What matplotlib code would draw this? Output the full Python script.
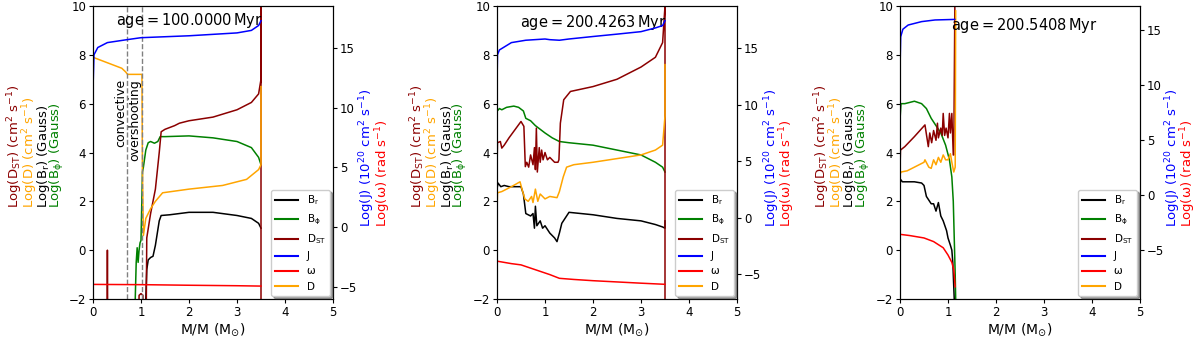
import numpy as np
import matplotlib
matplotlib.use("Agg")
import matplotlib.pyplot as plt

# ---- panel 1 : age = 100.0000 Myr ----
p1_dst_x = [0.0, 0.29, 0.30, 0.31, 0.94, 0.96, 1.0, 1.04, 1.06, 1.10, 1.12, 1.2, 1.3, 1.38, 1.42, 1.5, 1.7, 1.8, 2.0, 2.5, 3.0, 3.3, 3.45, 3.5, 3.5, 3.5]
p1_dst_y = [-5, -5, 0.0, -5, -5, -1.85, -1.78, -1.85, -5, -5, 0.5, 1.5, 2.5, 4.0, 4.85, 4.95, 5.1, 5.2, 5.3, 5.45, 5.75, 6.05, 6.4, 7.0, 12, -3]
p1_d_x = [0.0, 0.2, 0.4, 0.6, 0.68, 0.72, 1.02, 1.03, 1.05, 1.1, 1.2, 1.3, 1.45, 2.0, 2.7, 3.2, 3.45, 3.5, 3.5]
p1_d_y = [7.9, 7.75, 7.6, 7.45, 7.3, 7.2, 7.2, 3.2, 0.6, 1.3, 1.7, 2.0, 2.35, 2.5, 2.65, 2.9, 3.3, 3.5, 6.7]
p1_bphi_x = [0.0, 0.88, 0.9, 0.92, 0.94, 0.96, 0.98, 1.0, 1.03, 1.05, 1.1, 1.15, 1.2, 1.28, 1.35, 1.4, 1.5, 2.0, 2.5, 3.0, 3.3, 3.45, 3.5]
p1_bphi_y = [-5, -2.0, -0.5, 0.1, -0.5, 0.0, 0.3, 0.4, 3.2, 3.4, 4.1, 4.4, 4.45, 4.38, 4.45, 4.65, 4.65, 4.68, 4.6, 4.45, 4.2, 3.8, 3.5]
p1_br_x = [0.0, 1.08, 1.1, 1.12, 1.15, 1.2, 1.25, 1.3, 1.38, 1.42, 1.6, 2.0, 2.5, 3.0, 3.3, 3.45, 3.5]
p1_br_y = [-5, -5, -2.0, -0.8, -0.4, -0.3, -0.25, 0.2, 1.2, 1.42, 1.45, 1.55, 1.55, 1.42, 1.3, 1.1, 0.9]
p1_j_x = [0.0, 0.02, 0.1, 0.3, 0.7, 1.0, 2.0, 3.0, 3.3, 3.45, 3.5]
p1_j_y = [11.56, 14.42, 15.03, 15.44, 15.68, 15.85, 16.01, 16.25, 16.46, 16.87, 17.27]
p1_w_x = [0.0, 1.0, 2.0, 3.0, 3.5]
p1_w_y = [-4.78, -4.80, -4.85, -4.89, -4.92]

# ---- panel 2 : age = 200.4263 Myr ----
p2_dst_x = [0.0, 0.01, 0.07, 0.1, 0.15, 0.25, 0.5, 0.56, 0.59, 0.62, 0.66, 0.7, 0.75, 0.78, 0.8, 0.82, 0.84, 0.88, 0.9, 0.93, 0.96, 1.0, 1.05, 1.1, 1.2, 1.27, 1.29, 1.32, 1.39, 1.53, 2.0, 2.5, 3.0, 3.3, 3.45, 3.5, 3.5, 3.5]
p2_dst_y = [3.3, 4.4, 4.45, 4.18, 4.3, 4.6, 5.27, 5.07, 3.42, 3.6, 3.4, 3.9, 3.5, 4.2, 3.3, 5.0, 3.2, 4.2, 3.6, 4.1, 3.7, 4.0, 3.7, 3.8, 3.6, 3.6, 3.7, 5.2, 6.16, 6.5, 6.7, 7.0, 7.5, 7.9, 8.5, 10.0, 12, -3]
p2_d_x = [0.0, 0.01, 0.1, 0.3, 0.48, 0.52, 0.58, 0.65, 0.72, 0.75, 0.8, 0.85, 0.9, 1.0, 1.1, 1.25, 1.3, 1.38, 1.45, 1.6, 2.0, 2.5, 3.0, 3.3, 3.45, 3.5, 3.5]
p2_d_y = [1.5, 2.35, 2.4, 2.6, 2.8, 2.5, 2.1, 2.0, 2.2, 1.95, 2.5, 2.0, 2.3, 2.1, 2.2, 2.15, 2.4, 3.0, 3.4, 3.5, 3.6, 3.75, 3.9, 4.1, 4.3, 5.5, 7.6]
p2_bphi_x = [0.0, 0.005, 0.05, 0.1, 0.2, 0.35, 0.45, 0.55, 0.6, 0.7, 0.8, 0.9, 1.0, 1.15, 1.3, 1.5, 2.0, 2.5, 3.0, 3.3, 3.45, 3.5]
p2_bphi_y = [-2.5, 5.7, 5.8, 5.75, 5.85, 5.9, 5.85, 5.7, 5.4, 5.3, 5.1, 4.95, 4.8, 4.6, 4.45, 4.4, 4.3, 4.1, 3.9, 3.6, 3.4, 3.2]
p2_br_x = [0.0, 0.02, 0.08, 0.15, 0.25, 0.5, 0.55, 0.6, 0.7, 0.75, 0.78, 0.8, 0.83, 0.9, 0.95, 1.0, 1.1, 1.2, 1.25, 1.3, 1.35, 1.45, 1.5, 2.0, 2.5, 3.0, 3.3, 3.45, 3.5, 3.5]
p2_br_y = [2.5, 2.75, 2.6, 2.65, 2.6, 2.6, 2.3, 1.5, 1.4, 1.5, 0.9, 1.8, 1.0, 1.2, 0.9, 1.0, 0.7, 0.5, 0.35, 0.7, 1.1, 1.4, 1.55, 1.45, 1.3, 1.2, 1.05, 0.95, 0.9, 1.2]
p2_j_x = [0.0, 0.01, 0.05, 0.3, 0.6, 1.0, 1.1, 1.3, 1.5, 2.0, 2.5, 3.0, 3.3, 3.45, 3.5]
p2_j_y = [11.63, 14.44, 14.87, 15.52, 15.73, 15.84, 15.78, 15.73, 15.84, 16.06, 16.27, 16.49, 16.82, 17.03, 17.46]
p2_w_x = [0.0, 0.3, 0.5, 0.8, 1.1, 1.3, 1.6, 2.0, 2.5, 3.0, 3.5]
p2_w_y = [-3.82, -4.04, -4.15, -4.58, -5.01, -5.34, -5.44, -5.55, -5.66, -5.77, -5.87]

# ---- panel 3 : age = 200.5408 Myr ----
p3_dst_x = [0.0, 0.01, 0.1, 0.3, 0.52, 0.59, 0.62, 0.66, 0.7, 0.75, 0.78, 0.8, 0.85, 0.88, 0.9, 0.93, 0.96, 1.0, 1.03, 1.05, 1.08, 1.11, 1.12, 1.15]
p3_dst_y = [3.3, 4.1, 4.24, 4.65, 5.13, 4.24, 4.8, 4.4, 4.9, 4.5, 5.2, 4.6, 5.0, 4.7, 5.6, 4.7, 5.0, 4.6, 5.6, 4.8, 5.6, 3.9, 3.9, 12]
p3_d_x = [0.0, 0.02, 0.15, 0.35, 0.5, 0.52, 0.6, 0.65, 0.7, 0.75, 0.8, 0.85, 0.9, 0.95, 1.0, 1.05, 1.08, 1.12, 1.15, 1.16]
p3_d_y = [3.1, 3.2, 3.25, 3.45, 3.6, 3.7, 3.4, 3.35, 3.7, 3.5, 3.8, 3.6, 3.9, 3.7, 3.7, 3.95, 3.6, 3.2, 3.4, 9.8]
p3_bphi_x = [0.0, 0.005, 0.02, 0.1, 0.3, 0.45, 0.55, 0.65, 0.75, 0.85, 0.95, 1.03, 1.08, 1.11, 1.13, 1.15, 1.16]
p3_bphi_y = [-2.5, 5.5, 6.0, 6.0, 6.1, 6.0, 5.8, 5.4, 5.1, 4.8, 4.3, 3.7, 3.0, 2.0, 0.5, -1.0, -2.0]
p3_br_x = [0.0, 0.01, 0.05, 0.3, 0.45, 0.5, 0.55, 0.65, 0.7, 0.75, 0.8, 0.85, 0.9, 0.97, 1.0, 1.05, 1.08, 1.1, 1.12, 1.13]
p3_br_y = [2.5, 2.9, 2.8, 2.8, 2.75, 2.65, 2.2, 1.9, 1.9, 1.6, 1.95, 1.4, 1.2, 0.8, 0.5, 0.2, 0.0, -0.5, -1.5, -2.0]
p3_j_x = [0.0, 0.014, 0.06, 0.17, 0.45, 0.73, 1.14]
p3_j_y = [11.36, 14.38, 15.07, 15.45, 15.76, 15.91, 15.96]
p3_w_x = [0.0, 0.2, 0.5, 0.7, 0.9, 1.0, 1.08, 1.12, 1.15]
p3_w_y = [-3.58, -3.69, -3.91, -4.24, -4.80, -5.46, -6.13, -6.80, -8.35]

ages = ["100.0000", "200.4263", "200.5408"]
age_pos = [(0.40, 0.95), (0.40, 0.945), (0.52, 0.935)]
right_lims = [(-6.0, 18.5), (-7.17, 18.76), (-9.46, 17.18)]
lefts = [93, 497, 900]
left_label_x = [[15, 30, 43, 57], [418, 433, 447, 460], [822, 837, 850, 863]]
right_label_x = [[367, 383], [772, 787], [1173, 1188]]

panels = [
    (p1_br_x, p1_br_y, p1_bphi_x, p1_bphi_y, p1_dst_x, p1_dst_y, p1_j_x, p1_j_y, p1_w_x, p1_w_y, p1_d_x, p1_d_y),
    (p2_br_x, p2_br_y, p2_bphi_x, p2_bphi_y, p2_dst_x, p2_dst_y, p2_j_x, p2_j_y, p2_w_x, p2_w_y, p2_d_x, p2_d_y),
    (p3_br_x, p3_br_y, p3_bphi_x, p3_bphi_y, p3_dst_x, p3_dst_y, p3_j_x, p3_j_y, p3_w_x, p3_w_y, p3_d_x, p3_d_y),
]

W, H = 1200, 339
fig = plt.figure(figsize=(12, 3.39), dpi=100)

for i, d in enumerate(panels):
    brx, bry, bpx, bpy, dsx, dsy, jx, jy, wx, wy, dx, dy = d
    ax = fig.add_axes([lefts[i] / W, 1 - 299 / H, 240 / W, 293 / H])
    ax2 = ax.twinx()
    ax.plot(brx, bry, color="black", lw=1.1)
    ax.plot(bpx, bpy, color="green", lw=1.1)
    ax.plot(dsx, dsy, color="darkred", lw=1.1)
    ax.plot(dx, dy, color="orange", lw=1.1)
    ax2.plot(jx, jy, color="blue", lw=1.1)
    ax2.plot(wx, wy, color="red", lw=1.1)
    ax.set_xlim(0, 5)
    ax.set_ylim(-2, 10)
    ax2.set_ylim(*right_lims[i])
    ax.set_xlabel(r"M/M (M$_{\odot}$)", fontsize=10, labelpad=2)
    ax.tick_params(labelsize=8.5, length=3, pad=2)
    ax2.tick_params(labelsize=8.5, length=3, pad=2)
    ax.text(age_pos[i][0], age_pos[i][1], r"$\rm age = %s\,Myr$" % ages[i],
            transform=ax.transAxes, ha="center", va="center", fontsize=10.5)

    if i == 0:
        ax.axvline(0.7, color="gray", ls="--", lw=1.0)
        ax.axvline(1.03, color="gray", ls="--", lw=1.0)
        ax.text(0.58, 7.0, "convective", rotation=90, ha="center", va="top", fontsize=9)
        ax.text(0.87, 7.0, "overshooting", rotation=90, ha="center", va="top", fontsize=9)

    # legend built from proxy lines, shown on top axis
    handles = [
        plt.Line2D([], [], color="black"), plt.Line2D([], [], color="green"),
        plt.Line2D([], [], color="darkred"), plt.Line2D([], [], color="blue"),
        plt.Line2D([], [], color="red"), plt.Line2D([], [], color="orange"),
    ]
    labels = [r"B$_{\rm r}$", r"B$_{\rm \phi}$", r"D$_{\rm ST}$", "J", "ω", "D"]
    ax2.legend(handles, labels, loc="lower right", fontsize=7.5, shadow=True,
               fancybox=True, framealpha=1, handlelength=2.2, borderaxespad=0.3)

    # stacked coloured axis labels
    lab_txt = [r"Log(D$_{\rm ST}$) (cm$^2$ s$^{-1}$)", r"Log(D) (cm$^2$ s$^{-1}$)",
               r"Log(B$_{\rm r}$) (Gauss)", r"Log(B$_{\rm \phi}$) (Gauss)"]
    lab_col = ["darkred", "orange", "black", "green"]
    for k in range(4):
        fig.text(left_label_x[i][k] / W, 1 - 208 / H, lab_txt[k], rotation=90,
                 ha="center", va="bottom", color=lab_col[k], fontsize=9.5)
    fig.text(right_label_x[i][0] / W, 1 - 227 / H, r"Log(J) (10$^{20}$ cm$^2$ s$^{-1}$)",
             rotation=90, ha="center", va="bottom", color="blue", fontsize=9.5)
    fig.text(right_label_x[i][1] / W, 1 - 227 / H, r"Log(ω) (rad s$^{-1}$)",
             rotation=90, ha="center", va="bottom", color="red", fontsize=9.5)

fig.savefig("out.png", dpi=100)
